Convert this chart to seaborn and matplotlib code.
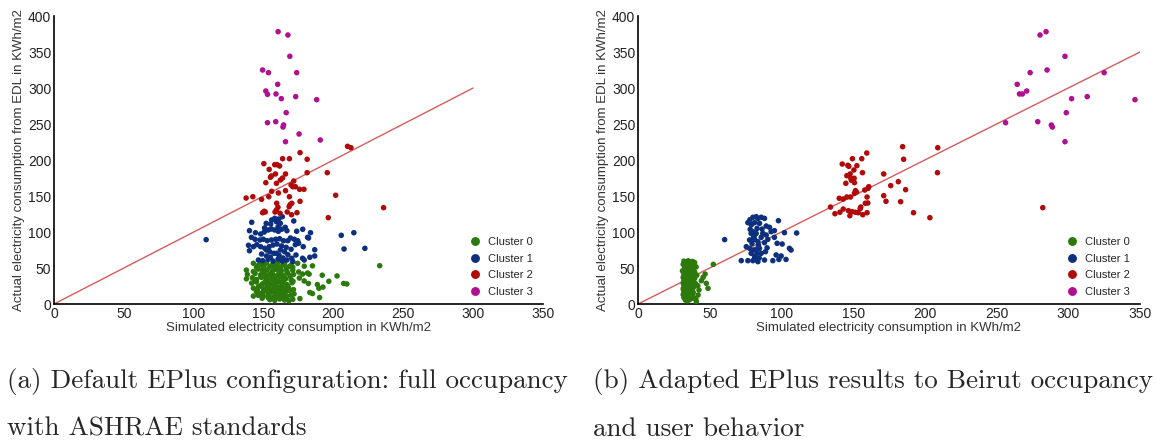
import matplotlib
matplotlib.use("Agg")
import matplotlib.pyplot as plt
import numpy as np
import pandas as pd
import seaborn as sns

# ---------------------------------------------------------------------------
# Data: simulated (x) vs. actual EDL (y) electricity consumption, kWh/m2
# ---------------------------------------------------------------------------
cluster_names = ["Cluster 0", "Cluster 1", "Cluster 2", "Cluster 3"]

# (a) default EnergyPlus configuration
a_c0_x = [142.7, 147.4, 152.1, 156.8, 160.3, 165.0, 169.7, 174.4, 179.1, 185.0,
          137.7, 142.7, 146.2, 149.3, 152.6, 156.3, 159.2, 162.7, 166.7, 170.9, 175.1, 181.5,
          138.4, 143.9, 147.9, 150.9, 154.5, 157.3, 161.0, 163.8, 167.4, 171.4, 177.9, 182.6, 192.0,
          137.7, 142.0, 144.9, 148.4, 152.1, 155.6, 158.7, 162.0, 165.7, 169.7, 175.6, 179.1, 202.6,
          141.5, 144.9, 149.3, 153.3, 156.3, 159.6, 163.4, 166.7, 170.4, 182.1, 188.5, 196.7, 207.3, 209.6,
          142.7, 146.2, 150.2, 154.0, 157.3, 161.0, 164.3, 168.0, 171.4, 189.6, 192.5,
          144.9, 149.3, 152.6, 155.6, 159.2, 162.0, 165.7, 168.5, 183.1, 185.0,
          142.7, 146.2, 149.8, 153.3, 156.8, 160.3, 163.4, 166.7, 169.7, 176.0, 190.1,
          154.5, 158.0, 161.5, 165.0, 168.1, 170.9,
          144.9, 149.8, 154.5, 158.0, 162.0, 166.2, 170.9,
          143.9, 151.2, 157.3, 160.9, 164.3, 171.1,
          147.4, 152.6, 158.0, 163.1, 167.4,
          147.4, 153.3, 158.5, 164.3, 171.8,
          146.0, 150.5, 155.0, 159.5, 164.0, 168.5,
          148.0, 152.0, 156.0, 160.0, 164.5, 169.0,
          145.5, 150.0, 154.0, 158.2, 162.5, 167.0,
          149.0, 153.5, 157.8, 161.8, 166.0,
          233.1]
a_c0_y = [56.5, 55.0, 57.5, 56.0, 58.0, 55.5, 54.0, 56.5, 52.5, 53.0,
          47.0, 45.0, 48.5, 46.0, 47.5, 45.5, 48.0, 46.5, 45.0, 47.0, 44.5, 43.0,
          41.0, 42.5, 40.5, 43.0, 41.5, 39.5, 42.0, 40.0, 42.5, 41.0, 41.6, 41.5, 40.0,
          35.0, 36.5, 34.0, 37.0, 35.5, 34.5, 36.0, 37.5, 35.0, 33.5, 36.0, 32.0, 39.0,
          29.0, 30.5, 28.0, 29.5, 27.5, 30.0, 28.5, 27.0, 29.5, 28.5, 27.0, 31.5, 28.5, 27.8,
          22.0, 23.5, 21.0, 22.5, 20.5, 23.0, 21.5, 22.0, 20.0, 21.8, 23.5,
          17.0, 16.0, 18.0, 16.5, 17.5, 15.5, 17.0, 18.5, 16.0, 14.5,
          11.0, 12.0, 10.5, 11.5, 9.5, 12.5, 10.0, 11.0, 12.0, 7.5, 9.0,
          6.0, 5.0, 7.0, 5.5, 4.5, 6.5,
          51.0, 50.5, 52.0, 50.0, 51.5, 49.5, 51.0,
          32.0, 31.5, 32.5, 31.0, 32.5, 31.5,
          25.0, 25.5, 24.5, 25.5, 24.5,
          14.0, 13.5, 14.5, 13.5, 14.0,
          53.5, 54.0, 52.5, 53.0, 54.5, 52.0,
          38.5, 39.0, 38.0, 39.5, 38.0, 38.5,
          19.0, 19.5, 18.5, 19.0, 20.0, 19.5,
          8.0, 8.5, 7.5, 8.0, 8.5,
          53.2]

a_c1_x = [141.5, 151.9, 155.8, 158.0, 160.8, 163.4, 155.1, 159.2, 162.0, 171.6,
          139.9, 144.2, 147.9, 150.5, 153.3, 155.6, 158.0, 160.6, 162.9, 165.5, 166.7, 173.7, 178.0, 183.6,
          141.3, 143.9, 147.4, 149.8, 152.6, 155.6, 158.7, 161.5, 164.3, 167.4, 169.2, 172.0, 174.4, 181.5, 182.2,
          139.9, 139.2, 142.7, 145.1, 147.9, 150.9, 154.0, 156.8, 159.6, 162.9, 166.2, 169.7, 172.7, 175.1, 178.4, 186.6,
          148.6, 152.1, 154.9, 157.3, 161.1, 163.9, 167.4, 170.2, 173.2, 177.9, 183.1, 186.6,
          146.3, 149.3, 153.3, 156.8, 160.4, 163.4, 166.7, 170.9, 179.1,
          108.9, 205.6, 214.6, 207.6, 222.5,
          152.1, 154.4, 162.0, 159.2, 165.0, 150.7, 160.4]
a_c1_y = [113.5, 112.0, 116.7, 119.0, 118.0, 121.2, 111.0, 114.3, 112.0, 115.3,
          101.8, 99.0, 97.2, 100.0, 102.8, 104.2, 102.8, 101.0, 103.8, 106.5, 101.8, 101.0, 103.8, 99.0,
          92.6, 89.9, 88.9, 89.9, 87.9, 88.9, 89.9, 90.7, 87.9, 87.9, 91.7, 89.9, 87.9, 92.6, 91.7,
          74.0, 81.5, 79.6, 82.4, 79.6, 77.3, 79.6, 81.9, 83.3, 80.6, 78.7, 76.0, 82.4, 84.3, 79.6, 75.4,
          69.4, 66.7, 64.9, 70.4, 67.6, 63.9, 68.5, 63.5, 68.1, 63.5, 64.9, 66.7,
          61.1, 60.2, 62.1, 59.7, 62.5, 59.7, 61.1, 58.8, 61.1,
          89.3, 95.4, 99.0, 76.4, 77.3,
          75.0, 72.6, 75.0, 70.4, 72.6, 105.6, 107.4]

a_c2_x = [210.1, 212.5, 176.1, 163.6, 168.5, 181.2, 150.2, 158.0, 159.6, 161.5,
          154.0, 195.6, 181.2, 165.7, 158.5, 155.6, 154.9, 163.6, 162.0, 151.6,
          159.2, 171.6, 169.7, 170.9, 172.8, 175.8, 178.9, 165.7, 160.6, 155.8,
          137.5, 142.3, 148.6, 153.7, 168.5, 201.6, 170.2, 169.0, 176.1, 159.4,
          160.3, 159.2, 158.2, 161.8, 168.3, 150.5, 149.3, 151.2, 173.9, 170.0,
          166.9, 196.3, 235.9]
a_c2_y = [219.0, 217.1, 210.2, 201.8, 201.8, 201.0, 194.9, 193.5, 193.5, 191.7,
          187.0, 182.4, 182.4, 180.6, 180.6, 177.8, 176.0, 175.0, 172.2, 168.5,
          167.6, 170.8, 165.3, 162.9, 162.9, 159.3, 159.3, 157.4, 154.2, 156.5,
          147.2, 149.0, 145.4, 149.0, 149.0, 151.0, 139.9, 138.0, 142.6, 139.9,
          134.3, 130.6, 127.8, 126.0, 135.2, 128.8, 126.8, 127.8, 126.8, 124.0,
          127.8, 119.9, 133.8]

a_c3_x = [160.4, 167.4, 168.8, 149.3, 153.5, 173.7, 160.1, 151.6, 152.8, 158.9,
          162.7, 173.0, 188.0, 166.2, 152.8, 158.7, 164.3, 163.9, 175.4, 190.6, 165.7]
a_c3_y = [378.2, 373.6, 344.0, 325.0, 321.3, 321.3, 305.1, 295.8, 291.2, 291.7,
          285.2, 288.0, 283.8, 265.7, 251.8, 253.2, 248.6, 245.8, 236.1, 227.8, 225.4]

# (b) EnergyPlus adapted to Beirut occupancy and user behaviour
b_c0_x = [32.0, 33.5, 35.0, 36.5, 38.0, 39.5,
          31.5, 33.0, 34.5, 36.0, 37.5, 39.0,
          32.5, 34.0, 35.5, 37.0, 38.5, 40.5,
          31.0, 33.0, 34.5, 36.0, 37.5, 39.5,
          32.0, 33.5, 35.0, 36.5, 38.5, 41.0, 46.8,
          31.5, 33.0, 34.5, 36.0, 37.5, 39.5, 45.4,
          32.0, 33.5, 35.0, 36.5, 38.0, 44.2,
          31.5, 33.0, 34.5, 36.0, 38.0, 40.0, 47.6,
          32.0, 33.5, 35.0, 37.0, 39.0, 41.7,
          31.5, 33.0, 34.5, 36.0, 38.0, 48.8,
          32.0, 33.5, 35.0, 36.5, 38.5, 42.5,
          31.5, 33.0, 34.5, 36.0, 38.0, 41.9,
          32.0, 33.5, 35.0, 36.5, 38.5, 40.3,
          33.0, 34.5, 36.0, 40.7,
          52.5]
b_c0_y = [59.5, 58.0, 60.0, 58.5, 59.0, 57.5,
          55.0, 54.0, 56.0, 55.5, 53.5, 54.5,
          50.5, 49.5, 51.0, 50.0, 49.0, 51.5,
          46.0, 45.5, 47.0, 45.0, 46.5, 44.5,
          42.0, 41.0, 42.5, 40.5, 41.5, 40.0, 41.6,
          37.0, 36.5, 38.0, 36.0, 37.5, 35.5, 37.0,
          33.0, 32.5, 34.0, 32.0, 33.5, 32.4,
          29.0, 28.5, 30.0, 28.0, 29.5, 28.5, 28.7,
          25.0, 24.5, 26.0, 25.5, 24.0, 25.4,
          21.0, 20.5, 22.0, 21.5, 20.0, 21.8,
          17.0, 16.5, 18.0, 17.5, 16.0, 19.4,
          13.0, 12.0, 13.5, 12.5, 11.5, 12.5,
          9.0, 8.5, 10.0, 9.5, 8.0, 7.4,
          5.5, 4.5, 6.0, 3.5,
          55.0]

b_c1_x = [80.1, 82.4, 83.6, 85.9, 88.2, 76.6, 81.3, 84.7, 89.4, 91.7, 97.9,
          78.2, 80.1, 82.4, 78.9, 81.3, 87.0, 89.4, 92.8, 95.1, 102.1, 110.6,
          85.9, 77.8, 81.3, 83.6, 88.2, 95.1, 97.0, 100.5, 90.5,
          75.5, 77.8, 80.1, 82.4, 84.7, 82.9, 78.9, 81.3, 85.9, 88.9, 96.3, 99.8,
          105.6, 106.7, 72.0, 76.6, 80.1, 82.9, 83.6, 88.2, 94.0, 98.2, 103.2, 60.4,
          79.0, 83.0, 80.5, 84.0, 79.5, 81.5, 84.5, 78.0, 86.5, 90.0]
b_c1_y = [120.4, 121.3, 118.9, 120.4, 118.9, 113.0, 113.0, 112.0, 108.3, 106.5, 115.7,
          103.7, 100.5, 98.1, 98.1, 95.8, 98.1, 95.8, 100.5, 101.9, 99.1, 98.6,
          92.6, 88.9, 89.8, 86.6, 85.2, 92.6, 84.3, 83.3, 89.8,
          79.6, 77.3, 75.0, 76.0, 77.3, 70.4, 70.4, 65.7, 70.4, 72.7, 68.1, 66.7,
          77.3, 75.0, 60.2, 60.2, 60.2, 61.1, 58.8, 61.1, 60.2, 61.9, 61.9, 89.4,
          110.0, 105.0, 92.0, 82.0, 84.0, 66.0, 64.0, 117.0, 104.0, 78.0]

b_c2_x = [184.5, 209.0, 159.5, 149.5, 156.0, 185.2, 142.4, 146.3, 147.0, 152.6,
          150.5, 156.5, 171.3, 208.8, 147.9, 145.6, 148.4, 150.7, 148.8, 150.9,
          144.9, 181.5, 176.2, 160.9, 160.4, 158.1, 151.6, 152.3, 150.9, 186.6,
          171.3, 159.7, 140.3, 143.1, 145.6, 148.1, 172.9, 183.1, 158.5, 160.2,
          134.2, 155.3, 154.9, 143.1, 140.8, 137.3, 146.7, 149.4, 151.6, 153.5,
          156.7, 147.7, 159.7, 192.1, 203.5, 282.2]
b_c2_y = [218.5, 217.1, 209.7, 201.8, 201.8, 201.0, 194.4, 192.6, 191.2, 192.1,
          186.1, 182.4, 180.6, 182.4, 180.6, 178.2, 174.6, 174.6, 171.8, 168.5,
          167.6, 169.9, 164.4, 162.9, 160.6, 158.3, 157.4, 155.5, 153.7, 158.8,
          150.4, 148.6, 146.8, 145.8, 148.6, 148.6, 142.6, 142.1, 139.9, 140.3,
          134.7, 134.7, 132.4, 131.9, 127.4, 125.4, 129.6, 128.2, 127.4, 126.8,
          124.0, 122.6, 126.8, 126.8, 119.9, 133.8]

b_c3_x = [284.5, 280.3, 297.7, 273.4, 325.0, 285.2, 264.4, 266.0, 268.0, 271.0,
          302.3, 313.2, 346.5, 298.6, 256.3, 278.7, 288.2, 288.9, 297.7]
b_c3_y = [378.2, 373.6, 344.0, 321.3, 321.3, 325.0, 305.1, 291.7, 291.7, 295.8,
          285.2, 288.0, 283.8, 265.7, 251.8, 253.2, 248.6, 245.8, 225.4]

# reference line y = x, drawn up to these x limits
ref_end = {"a": 300, "b": 350}

caption_lines = {
    "a": ["(a) Default EPlus configuration: full occupancy", "with ASHRAE standards"],
    "b": ["(b) Adapted EPlus results to Beirut occupancy", "and user behavior"],
}

xlabel = "Simulated electricity consumption in KWh/m2"
ylabel = "Actual electricity consumption from EDL in KWh/m2"
xticks = [0, 50, 100, 150, 200, 250, 300, 350]
yticks = [0, 50, 100, 150, 200, 250, 300, 350, 400]

palette = {"Cluster 0": "#2c7a0c", "Cluster 1": "#0c2f7e",
           "Cluster 2": "#b00a0a", "Cluster 3": "#b0108f"}


def build_frame(groups):
    rows = []
    for name, (xs, ys) in zip(cluster_names, groups):
        rows.append(pd.DataFrame({"sim": xs, "actual": ys, "cluster": name}))
    return pd.concat(rows, ignore_index=True)


df_a = build_frame([(a_c0_x, a_c0_y), (a_c1_x, a_c1_y), (a_c2_x, a_c2_y), (a_c3_x, a_c3_y)])
df_b = build_frame([(b_c0_x, b_c0_y), (b_c1_x, b_c1_y), (b_c2_x, b_c2_y), (b_c3_x, b_c3_y)])

sns.set_theme(style="white")
plt.rcParams["font.family"] = ["Liberation Sans", "DejaVu Sans"]

fig = plt.figure(figsize=(11.57, 4.45), dpi=100)
W, H = 1157, 445
ax_a = fig.add_axes([54 / W, 1 - 304 / H, (543 - 54) / W, (304 - 16) / H])
ax_b = fig.add_axes([638 / W, 1 - 304 / H, (1140 - 638) / W, (304 - 16) / H])

for key, ax, df in (("a", ax_a, df_a), ("b", ax_b, df_b)):
    end = ref_end[key]
    ax.plot([0, end], [0, end], color="#d65c5c", lw=1.0, zorder=1)
    sns.scatterplot(data=df, x="sim", y="actual", hue="cluster", hue_order=cluster_names,
                    palette=palette, s=16, linewidth=0, ax=ax, zorder=3)
    ax.set_xlim(0, 350)
    ax.set_ylim(0, 400)
    ax.set_xticks(xticks)
    ax.set_yticks(yticks)
    ax.tick_params(axis="both", labelsize=10, pad=2, length=0, colors="#222222")
    ax.set_xlabel(xlabel, fontsize=9.5, labelpad=1, color="#333333")
    ax.set_ylabel(ylabel, fontsize=9.5, labelpad=2, color="#333333")
    for side in ("top", "right"):
        ax.spines[side].set_visible(False)
    for side in ("left", "bottom"):
        ax.spines[side].set_color("black")
        ax.spines[side].set_linewidth(1.2)
    handles, labels = ax.get_legend_handles_labels()
    ax.legend(handles, labels, loc="lower right", frameon=False, fontsize=8,
              markerscale=1.6, handletextpad=0.6, labelspacing=0.6,
              handlelength=1.2, bbox_to_anchor=(1.0, -0.01))

for key, x0 in (("a", 7), ("b", 593)):
    for i, line in enumerate(caption_lines[key]):
        fig.text(x0 / W, 1 - (388 + 48 * i) / H, line, family="cmr10",
                 fontsize=19.5, va="baseline", ha="left")

fig.savefig("out.png", dpi=100)
